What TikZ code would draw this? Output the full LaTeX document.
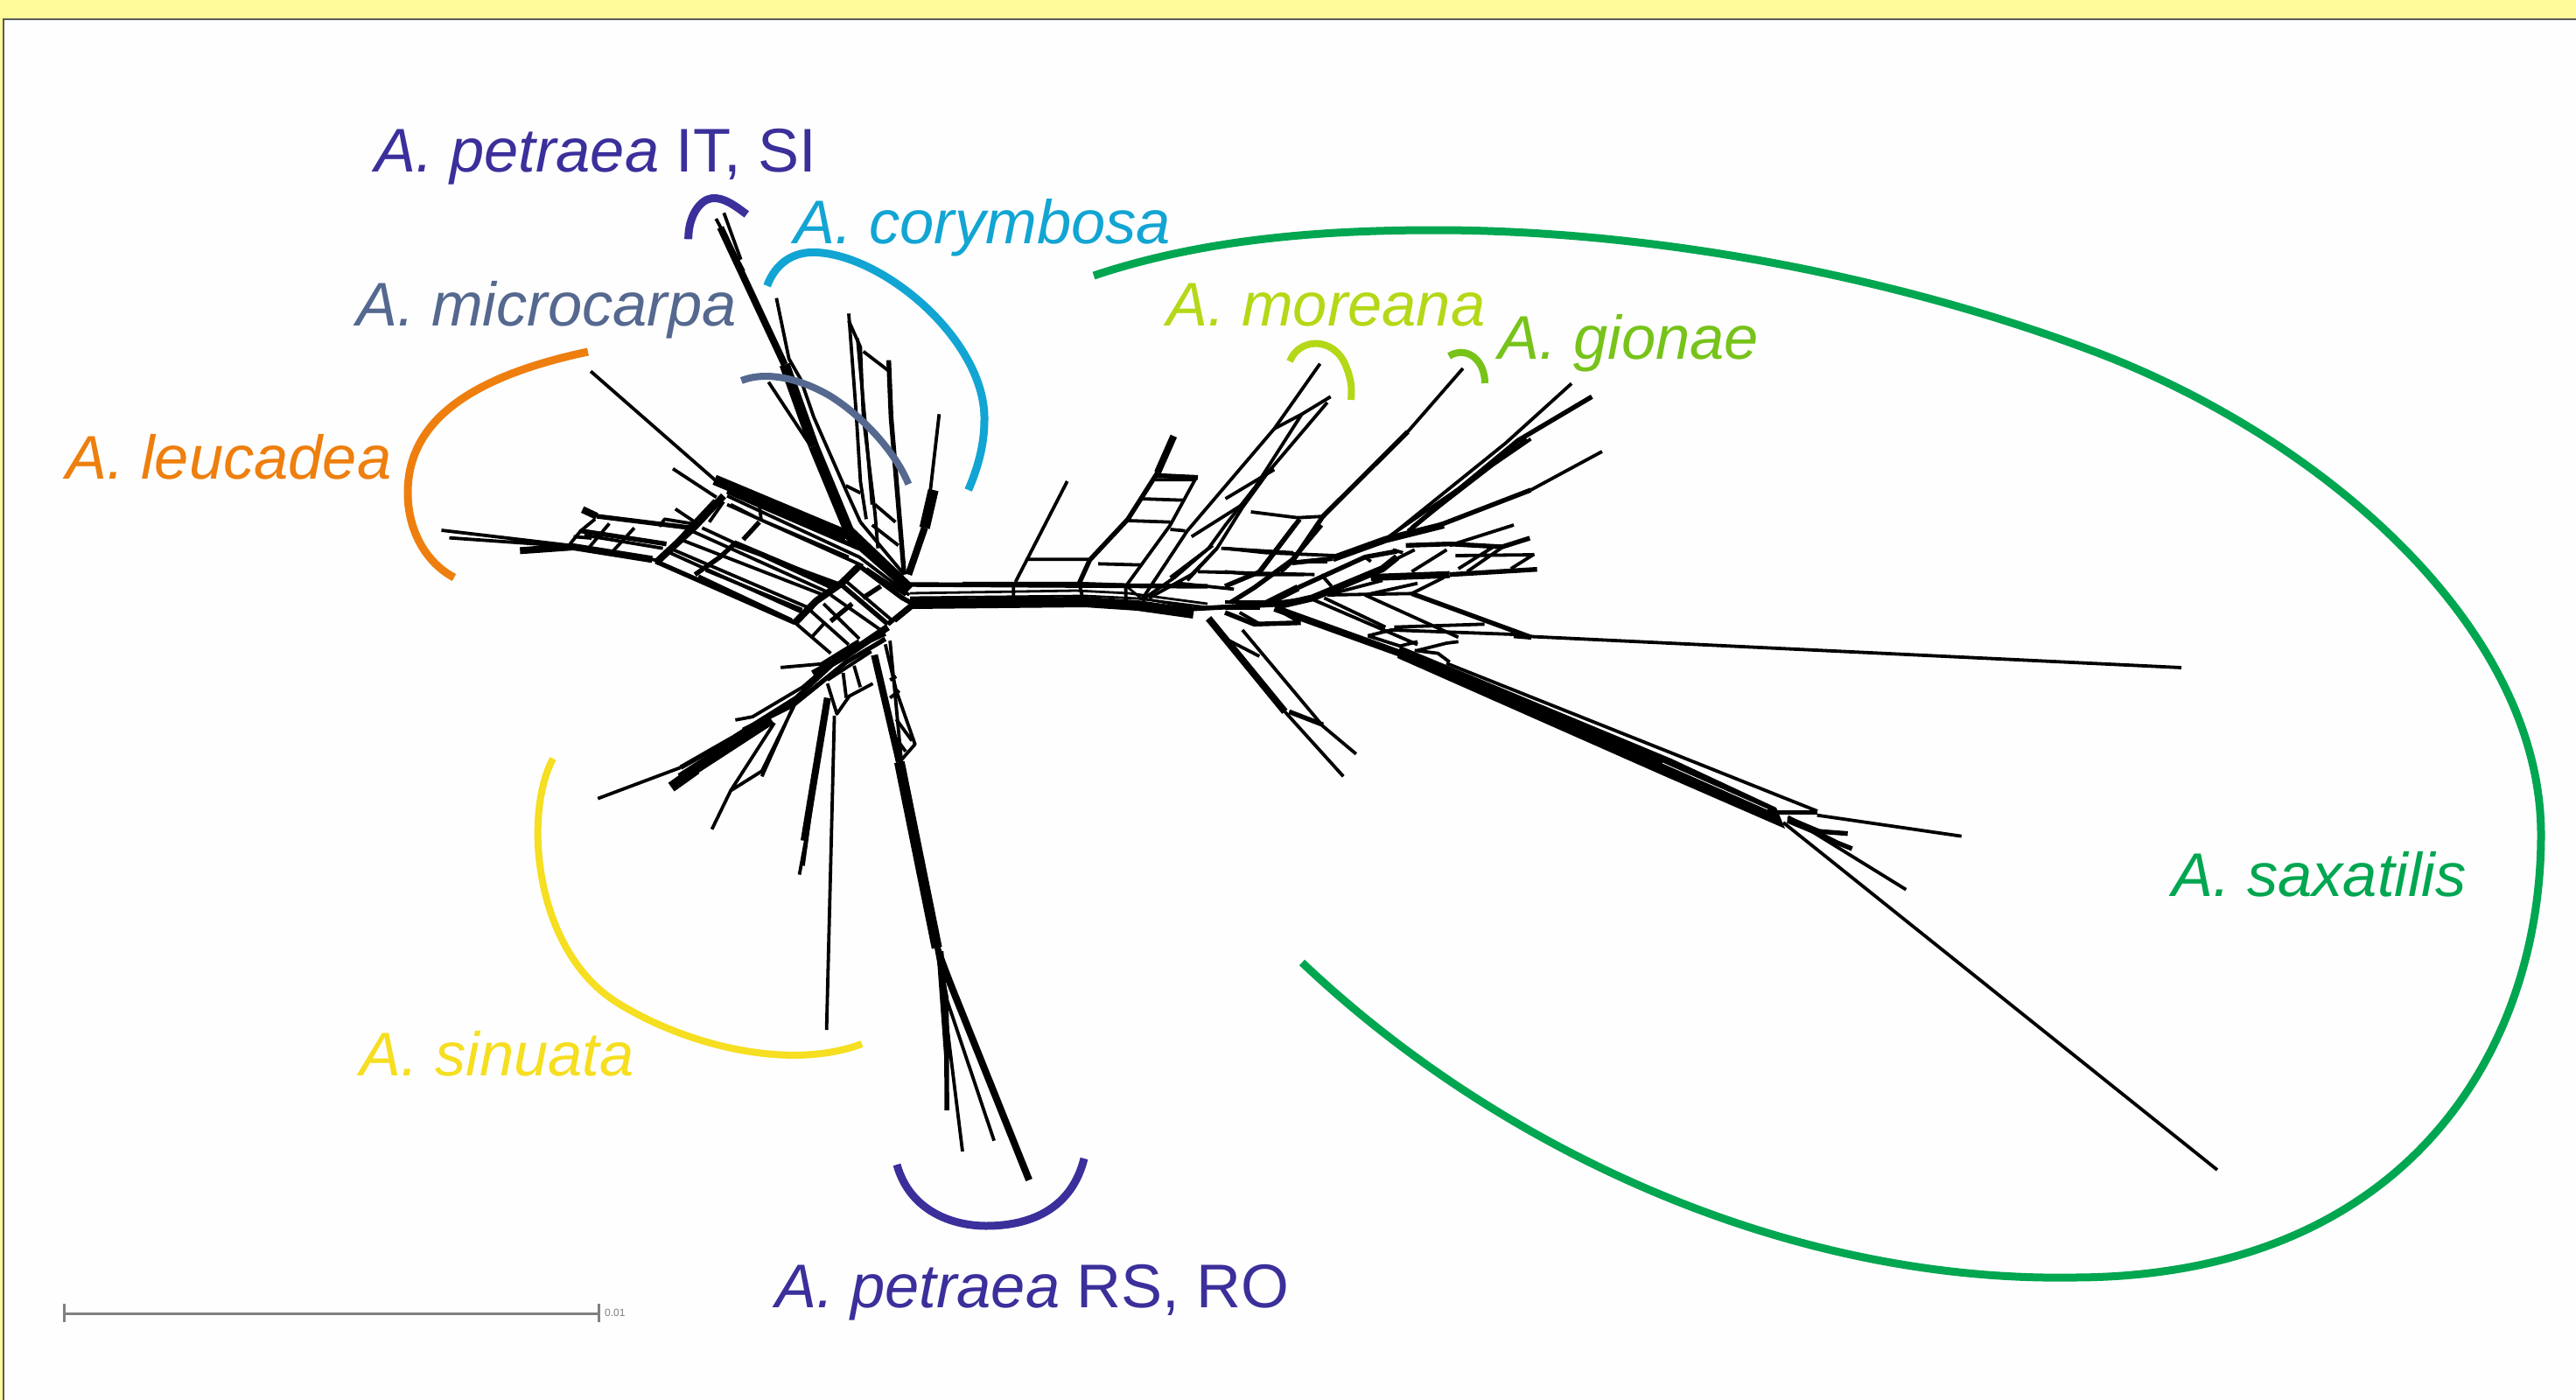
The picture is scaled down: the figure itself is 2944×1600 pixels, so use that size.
\documentclass[tikz,border=0pt]{standalone}
\usepackage{fontspec}
\setmainfont{Liberation Sans}
\definecolor{cpet}{HTML}{3B2F9B}
\definecolor{ccor}{HTML}{12A5D3}
\definecolor{cmic}{HTML}{55688F}
\definecolor{cleu}{HTML}{EE7F0E}
\definecolor{csin}{HTML}{F6DE20}
\definecolor{cmor}{HTML}{B4D817}
\definecolor{cgio}{HTML}{77C31A}
\definecolor{csax}{HTML}{00A650}
\tikzset{
 n1/.style={draw=black,line width=2.8pt,line join=round},
 n2/.style={draw=black,line width=3.8pt,line join=round},
 n3/.style={draw=black,line width=5.4pt,line join=round},
 n4/.style={draw=black,line width=8pt,line join=round},
 n5/.style={draw=black,line width=12pt,line join=round},
 z1/.style={x=0.40816pt,y=-0.33333pt,shift={(480pt,-380pt)}},
 z2/.style={x=0.48469pt,y=-0.33333pt,shift={(1100pt,-400pt)}},
 z3/.style={x=0.35714pt,y=-0.40816pt,shift={(660pt,-720pt)}},
 z6/.style={x=0.33333pt,y=-0.33333pt,shift={(770pt,-210pt)}},
 z7/.style={x=0.33333pt,y=-0.33333pt,shift={(1400pt,-600pt)}},
 z8/.style={x=0.33333pt,y=-0.33333pt,shift={(1900pt,-860pt)}},
 arcline/.style={line width=#1,line cap=butt,line join=round},
 lab/.style={anchor=base west,inner sep=0pt,outer sep=0pt,font=\fontsize{70.5}{80}\selectfont},
}
\begin{document}
\begin{tikzpicture}[x=1pt,y=-1pt]
\useasboundingbox (0,0) rectangle (2944,1600);
\fill[white!99.5!black] (0,0) rectangle (2944,1600);
\fill[yellow!40] (0,0) rectangle (2944,21);
\fill[yellow!40] (0,0) rectangle (3,1600);
\draw[black!65,line width=2pt] (2944,22) -- (3.5,22) -- (3.5,1600);

% central bands
\draw[n3] (1040,668) -- (1380,670);
\draw[n1] (1040,678) -- (1230,675) -- (1290,678) -- (1380,690);
\draw[n1] (1040,683) -- (1240,681) -- (1300,684) -- (1380,694);
\draw[n5] (1040,690) -- (1240,688) -- (1300,692) -- (1364,701);

% long trunk to A. saxatilis
\fill (1600,738)--(1910,867)--(2030,923)--(2040,947)--(1900,886)--(1597,752)--cycle;
\draw[n2] (1653,758)--(2077,927);
\draw[white,line width=0.8pt] (1900,872)--(2020,925);
% long leaves
\draw[n2] (1740,727)--(2493,763);
\draw[n2] (2038,940)--(2534,1337);

\begin{scope}[z2]
\draw[n2] (120,795)--(120,870) (275,800)--(285,860) (385,810)--(385,880) (425,840)--(430,895);
\draw[n3] (0,803)--(280,803)--(385,808);
\draw[n1] (385,808)--(420,850)--(545,885);
\draw[n2] (247,450)--(125,795) (155,718)--(300,718);
\draw[n4] (498,295)--(460,420);
\draw[n3] (460,420)--(390,580)--(300,720)--(275,800);
\draw[n3] (455,430)--(555,437);
\draw[n2] (450,445)--(545,445) (420,510)--(520,515) (390,585)--(490,590) (320,733)--(420,737) (490,615)--(525,620);
\draw[n2] (550,440)--(490,600)--(420,740)--(385,810);
\draw[n2] (843,47)--(735,270)--(530,620)--(430,840);
\draw[n2] (868,160)--(800,220)--(735,270);
\draw[n2] (860,180)--(720,420)--(660,540)--(600,680)--(540,770)--(440,850);
\draw[n2] (800,220)--(690,470)--(620,600)--(580,680)--(500,780)--(430,850);
\draw[n2] (735,410)--(620,510) (660,530)--(540,640) (590,670)--(490,780);
\draw[n2] (1180,63)--(1050,280);
\draw[n3] (1050,280)--(850,570)--(780,720)--(750,760);
\draw[n2] (680,555)--(790,575)--(855,570) (610,680)--(780,695) (600,680)--(530,790) (555,760)--(830,770) (510,800)--(640,820);
\draw[n3] (795,580)--(700,760);
\draw[n2] (880,710)--(990,660)--(1280,320)--(1436,115);
\draw[n3] (1060,610)--(1310,310)--(1484,160);
\draw[n2] (1050,620)--(1330,305) (990,655)--(1340,305);
\draw[n3] (1090,620)--(1340,480);
\draw[n2] (1340,480)--(1508,348);
\draw[n4] (580,920)--(760,1240);
\draw[n2] (660,960)--(850,1290)--(928,1385) (760,1240)--(898,1462);
\draw[n3] (770,1240)--(850,1285);
\draw[n2] (620,990)--(700,1050);
\draw[n2] (545,885)--(720,870)--(820,850);
\draw[n2] (540,890)--(740,875);
\end{scope}

\begin{scope}[z7]
\draw[n4] (170,285)--(600,440);
\draw[n2] (300,255)--(660,410) (340,250)--(550,350) (480,240)--(800,385);
\draw[n3] (640,235)--(1050,385);
\draw[n2] (350,240)--(640,235) (580,350)--(890,340) (490,380)--(570,360)--(990,375);
\draw[n3] (990,380)--(1050,385);
\draw[n2] (660,430)--(760,405)--(800,400) (650,430)--(730,440)--(770,470);
\draw[n2] (490,380)--(600,415)--(660,400);
\draw[n3] (230,130)--(370,115);
\draw[n2] (245,125)--(350,125);
\draw[n4] (370,115)--(550,50)--(750,0);
\draw[n2] (770,70)--(990,0);
\draw[n3] (620,70)--(770,65)--(950,75)--(1045,45);
\draw[n4] (500,180)--(770,170);
\draw[n3] (770,170)--(1070,152);
\draw[n2] (800,150)--(920,75) (830,160)--(960,70) (980,150)--(1060,100) (790,105)--(1060,102);
\draw[n2] (560,130)--(650,85) (640,160)--(760,85);
\draw[n2] (350,240)--(540,190) (480,240)--(660,200) (640,235)--(750,180);
\draw[n4] (140,270)--(250,215);
\draw[n3] (250,215)--(480,110)--(590,90);
\draw[n4] (170,280)--(300,250)--(540,150)--(590,110);
\draw[n3] (240,0)--(120,160)--(0,210);
\draw[n3] (330,0)--(230,120)--(100,215)--(20,265);
\draw[n2] (0,80)--(140,95)--(380,105) (0,160)--(100,170)--(270,170);
\draw[n2] (0,265)--(140,265) (0,285)--(120,285);
\draw[n3] (0,300)--(100,340)--(260,335);
\draw[n2] (50,300)--(120,340) (180,290)--(250,330);
\draw[n2] (330,170)--(365,210) (480,110)--(500,125) (575,85)--(610,95);
\end{scope}

\begin{scope}[z8]
\draw[n2] (430,220)--(835,470);
\draw[n2] (530,215)--(1025,287);
\draw[n3] (380,205)--(530,205);
\draw[n3] (430,225)--(530,270)--(635,278);
\draw[n3] (520,270)--(600,310)--(650,330);
\draw[n4] (430,230)--(550,280);
\end{scope}

\begin{scope}[z6]
\draw[n2] (172,100)--(230,260);
\draw[n2] (145,120)--(240,300);
\draw[n4] (160,150)--(380,620);
\draw[n5] (380,620)--(480,900);
\draw[n5] (480,900)--(600,1190);
\draw[n5] (600,1190)--(810,1390);
\draw[n2] (352,392)--(395,600)--(435,670)--(480,800)--(590,1050)--(640,1160);
\draw[n2] (325,680)--(470,900);
\draw[n2] (600,445)--(625,780)--(640,1020)--(660,1150);
\draw[n2] (600,470)--(640,560)--(650,800)--(690,1130)--(700,1250);
\draw[n2] (630,530)--(660,860)--(680,1100);
\draw[n2] (650,575)--(735,640);
\draw[n3] (737,605)--(745,800)--(770,1100)--(790,1340);
\draw[n2] (590,1035)--(640,1060) (690,1100)--(760,1160) (680,1170)--(770,1240) (640,1160)--(790,1340);
\draw[n2] (910,790)--(880,1050);
\draw[n5] (890,1050)--(860,1180);
\draw[n4] (860,1180)--(805,1340);
\end{scope}

\begin{scope}[z1]
\draw[n2] (478,133)--(830,510) (708,467)--(830,565);
\draw[n5] (825,505)--(1195,695);
\draw[n4] (1195,695)--(1340,850);
\draw[n3] (860,545)--(1230,740);
\draw[n2] (860,560)--(1230,770)--(1370,900) (860,590)--(1240,800) (950,590)--(955,640) (870,590)--(950,640)--(1200,770);
\draw[n4] (850,560)--(770,665)--(660,790);
\draw[n2] (825,575)--(745,680)--(680,770) (850,580)--(810,650);
\draw[n3] (950,650)--(905,710) (880,725)--(840,770)--(770,830);
\draw[n2] (790,670)--(1160,880) (880,730)--(1170,860) (730,710)--(1130,900) (700,740)--(1100,950) (800,815)--(1070,950);
\draw[n2] (760,680)--(1150,895) (690,750)--(1080,965) (780,835)--(1040,985);
\draw[n3] (880,720)--(1170,870);
\draw[n3] (660,785)--(1050,995);
\draw[n4] (1230,800)--(1180,860)--(1110,920)--(1050,995);
\draw[n2] (1050,995)--(1150,1100);
\draw[n3] (1180,865)--(1310,1000);
\draw[n2] (1195,855)--(1320,985);
\draw[n2] (1150,900)--(1290,1020) (1130,930)--(1230,1050) (1090,950)--(1200,1070);
\draw[n3] (1230,800)--(1350,910)--(1380,930);
\draw[n2] (1250,810)--(1360,900);
\draw[n3] (1290,870)--(1240,910) (1210,930)--(1150,990);
\draw[n2] (1130,1000)--(1100,1040);
\draw[n3] (1310,1000)--(1380,930);
\draw[n2] (1330,990)--(1380,940);
\draw[n2] (660,780)--(530,755)--(420,730)--(60,678) (82,704)--(420,733);
\draw[n4] (280,748)--(430,735)--(650,778);
\draw[n4] (455,607)--(495,630);
\draw[n3] (495,630)--(760,670);
\draw[n3] (450,680)--(690,725);
\draw[n2] (460,695)--(680,740);
\draw[n2] (420,725)--(450,680)--(490,640) (475,735)--(530,655) (540,750)--(600,670);
\draw[n2] (670,665)--(685,640)--(760,655) (715,605)--(770,650) (430,700)--(480,705);
\draw[n4] (1310,1010)--(1190,1110)--(1100,1170);
\end{scope}

\begin{scope}[z3]
\draw[n2] (65,472)--(330,385);
\draw[n3] (330,385)--(500,300);
\draw[n5] (300,440)--(380,390);
\draw[n5] (330,415)--(620,250);
\draw[n3] (500,300)--(700,190)--(860,60)--(985,10);
\draw[n3] (530,280)--(690,210)--(860,90)--(985,25);
\draw[n2] (505,252)--(560,243)--(720,160)--(840,70) (650,105)--(780,95)--(900,30);
\draw[n2] (430,558)--(490,450)--(630,260) (490,450)--(590,395)--(700,200) (590,410)--(700,195);
\draw[n4] (725,590)--(800,190);
\draw[n2] (710,685)--(730,590);
\draw[n2] (722,660)--(790,230);
\draw[n2] (797,1120)--(822,240);
\draw[n2] (800,150)--(830,235)--(870,185)--(945,150);
\draw[n2] (850,120)--(860,190) (885,100)--(905,160) (800,140)--(940,60);
\draw[n4] (950,70)--(1030,370);
\draw[n5] (1030,370)--(1150,890);
\draw[n3] (1150,890)--(1180,1030)--(1182,1345);
\draw[n2] (985,40)--(1020,170)--(1080,320)--(1030,370) (1000,280)--(1050,340) (1020,250)--(1070,310) (1000,140)--(1020,130) (1000,190)--(1030,170);
\draw[n2] (1000,30)--(1040,400)--(1170,950);
\draw[n3] (1150,880)--(1200,1000);
\draw[n4] (1170,940)--(1445,1540);
\draw[n2] (1170,1020)--(1232,1460) (1180,1030)--(1333,1430);
\draw[n4] (1160,900)--(1185,1200);
\end{scope}

% taxon arcs
\draw[csax,arcline=9pt] (1250,315) .. controls (1370,275) and (1500,263) .. (1640,263)
  .. controls (1900,263) and (2180,320) .. (2402,405)
  .. controls (2660,505) and (2904,720) .. (2904,954)
  .. controls (2904,1200) and (2750,1460) .. (2368,1460)
  .. controls (2050,1465) and (1720,1320) .. (1488,1100);
\draw[cleu,arcline=9pt] (672,402) .. controls (540,430) and (466,480) .. (466,563) .. controls (466,610) and (490,645) .. (519,660);
\draw[csin,arcline=8pt] (632,867) .. controls (598,930) and (610,1085) .. (704,1145) .. controls (780,1193) and (900,1225) .. (985,1193);
\draw[cpet,arcline=9pt] (1025,1331) .. controls (1040,1385) and (1090,1401) .. (1127,1401) .. controls (1180,1401) and (1225,1380) .. (1239,1324);
\begin{scope}[z6]
\draw[cpet,arcline=9pt] (50,190) .. controls (50,110) and (90,55) .. (130,50) .. controls (170,45) and (210,75) .. (250,105);
\draw[ccor,arcline=9pt] (320,350) .. controls (350,270) and (410,235) .. (480,235) .. controls (720,240) and (1070,540) .. (1065,810) .. controls (1065,900) and (1040,980) .. (1010,1050);
\draw[cmic,arcline=8pt] (232,675) .. controls (320,640) and (440,670) .. (540,730) .. controls (650,800) and (760,920) .. (805,1030);
\end{scope}
\draw[cmor,arcline=8pt] (1474,413) .. controls (1485,385) and (1525,385) .. (1538,418) .. controls (1545,435) and (1545,445) .. (1544,457);
\draw[cgio,arcline=8pt] (1656,407) .. controls (1675,395) and (1697,410) .. (1697,438);

% labels
\node[lab,text=cpet] (lpetit) at (428,196) {\itshape A. petraea\upshape{} IT, SI};
\node[lab,text=ccor] (lcor) at (907,278) {\itshape A. corymbosa};
\node[lab,text=cmic] (lmic) at (407,372) {\itshape A. microcarpa};
\node[lab,text=cleu] (lleu) at (75,547) {\itshape A. leucadea};
\node[lab,text=cmor] (lmor) at (1333,372) {\itshape A. moreana};
\node[lab,text=cgio] (lgio) at (1712,410) {\itshape A. gionae};
\node[lab,text=csax] (lsax) at (2482,1024) {\itshape A. saxatilis};
\node[lab,text=csin] (lsin) at (411,1229) {\itshape A. sinuata};
\node[lab,text=cpet] (lpetrs) at (886,1494) {\itshape A. petraea\upshape{} RS, RO};

% scale bar
\coordinate (sa) at (73,1501);
\coordinate (sb) at (684,1501);
\draw[black!50,line width=3pt] (sa)--(sb);
\draw[black!50,line width=3pt] (73,1490)--(73,1511) (684,1490)--(684,1511);
\node[anchor=west,inner sep=0pt,text=black!50,font=\fontsize{12}{14}\selectfont] (sl) at (691,1500) {0.01};
\end{tikzpicture}
\end{document}
